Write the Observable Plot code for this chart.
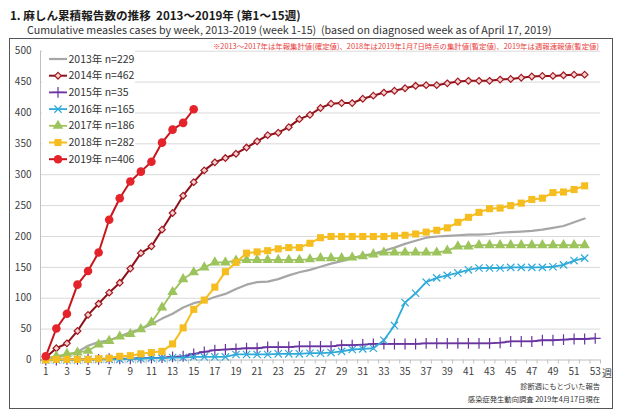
<!DOCTYPE html>
<html>
<head>
<meta charset="utf-8">
<script src="https://cdn.jsdelivr.net/npm/d3@7"></script>
<script src="https://cdn.jsdelivr.net/npm/@observablehq/plot@0.6"></script>
<style>
  body { margin: 0; background: #fff; }
  #wrap { position: relative; width: 630px; height: 420px; background: #fff; font-family: "Noto Sans CJK JP", "Noto Sans", sans-serif; color: #333; overflow: hidden; }
  .abs { position: absolute; white-space: nowrap; }
</style>
</head>
<body>
<div id="wrap">
  <div class="abs" id="title" style="left:10px; top:7px; font-size:11.6px; font-weight:bold; color:#1a1a1a;">1. 麻しん累積報告数の推移&nbsp; 2013～2019年 (第1～15週)</div>
  <div class="abs" id="subtitle" style="left:27px; top:22px; font-size:10.7px; color:#333;">Cumulative measles cases by week, 2013-2019 (week 1-15)&nbsp; (based on diagnosed week as of April 17, 2019)</div>
  <div class="abs" id="box" style="left:9px; top:38px; width:602px; height:369px; border:1px solid #555;"></div>
  <div class="abs" id="chart" style="left:0; top:38px;"></div>
  <div class="abs" id="note" style="right:31px; top:40px; font-size:7.4px; color:#e8413c;">※2013～2017年は年報集計値(確定値)、2018年は2019年1月7日時点の集計値(暫定値)、2019年は週報速報値(暫定値)</div>
  <div class="abs" id="unit" style="left:602px; top:365px; font-size:10px; color:#404040;">週</div>
  <div class="abs" id="foot1" style="right:30px; top:381px; font-size:7.3px; color:#333;">診断週にもとづいた報告</div>
  <div class="abs" id="foot2" style="right:30px; top:394px; font-size:7.3px; color:#333;">感染症発生動向調査 2019年4月17日現在</div>
  <div class="abs" id="legend" style="left:42px; top:50px;"></div>
</div>
<script>
// ---- data ----
const weeks = [1,2,3,4,5,6,7,8,9,10,11,12,13,14,15,16,17,18,19,20,21,22,23,24,25,26,27,28,29,30,31,32,33,34,35,36,37,38,39,40,41,42,43,44,45,46,47,48,49,50,51,52,53];
const xTickWeeks = [1,3,5,7,9,11,13,15,17,19,21,23,25,27,29,31,33,35,37,39,41,43,45,47,49,51,53];
const yTicks = [0,50,100,150,200,250,300,350,400,450,500];
const seriesNames = ["2013年 n=229","2014年 n=462","2015年 n=35","2016年 n=165","2017年 n=186","2018年 n=282","2019年 n=406"];

const cases2013 = [0,4,8,13,23,29,32,38,45,50,58,67,75,85,92,96,102,107,115,122,126,127,131,137,142,146,151,156,160,165,169,172,177,182,188,193,198,200,201,202,203,203,204,206,207,208,209,211,214,217,223,229];
const cases2014 = [4,19,27,47,73,91,109,125,148,173,184,211,238,266,288,307,320,327,334,344,354,364,368,377,390,397,408,415,416,416,423,428,433,436,440,444,445,445,448,451,452,452,452,454,455,457,459,460,460,461,462,462];
const cases2015 = [0,0,1,1,1,1,2,2,2,3,3,4,5,6,10,13,16,17,18,19,19,21,21,21,22,22,22,22,24,24,25,26,26,26,26,26,27,27,27,27,27,27,27,28,30,30,30,32,32,33,34,34,35];
const cases2016 = [0,0,0,0,1,1,1,1,2,2,3,3,4,4,5,5,5,5,9,9,9,9,10,10,10,11,11,12,14,17,18,19,32,56,93,108,126,133,137,141,146,149,149,149,150,150,150,150,151,154,161,165];
const cases2017 = [3,6,10,12,15,25,31,38,42,50,61,85,110,131,142,150,158,158,161,162,162,162,162,162,162,163,165,165,165,166,168,171,174,174,174,174,174,174,177,184,184,186,186,186,186,186,186,186,186,186,186,186];
const cases2018 = [0,1,1,1,1,2,3,6,7,10,12,14,26,52,82,97,118,143,158,173,175,177,180,182,182,189,198,200,200,200,200,200,200,201,202,204,207,210,214,223,231,239,245,246,250,254,260,262,271,272,276,282];
const cases2019 = [6,51,75,122,144,174,227,262,289,305,321,352,373,384,406];

const allCases = [cases2013, cases2014, cases2015, cases2016, cases2017, cases2018, cases2019];

// ---- styles ----
const styles = [
  {line: "#a6a6a6", width: 2.2, symbol: null},
  {line: "#8e1219", width: 2, symbol: "diamond2", r: 3.0, fill: "#f2d2d2", stroke: "#a3171f", sw: 1.2},
  {line: "#6a34a0", width: 1.8, symbol: "plus", r: 3.6, fill: "none", stroke: "#6a34a0", sw: 1.2},
  {line: "#2faad9", width: 1.8, symbol: "times", r: 3.4, fill: "none", stroke: "#2faad9", sw: 1.2},
  {line: "#9cc35c", width: 1.8, symbol: "triangle", r: 3.9, fill: "#9cc35c", stroke: "none", sw: 0},
  {line: "#f5bd1f", width: 2, symbol: "square", r: 4.0, fill: "#f5bd1f", stroke: "none", sw: 0},
  {line: "#c9161d", width: 2, symbol: "circle", r: 4.3, fill: "#e4232a", stroke: "none", sw: 0}
];

const tables = allCases.map((vals, i) => vals.map((v, j) => ({week: weeks[j], value: v, series: seriesNames[i]})));
const boundaries = weeks.map(w => w - 0.5).concat([53.5]);

const seriesMarks = [];
tables.forEach((t, i) => {
  const s = styles[i];
  seriesMarks.push(Plot.line(t, {x: "week", y: "value", stroke: s.line, strokeWidth: s.width, curve: "linear"}));
  if (s.symbol) {
    seriesMarks.push(Plot.dot(t, {x: "week", y: "value", symbol: s.symbol, r: s.r, fill: s.fill, stroke: s.stroke, strokeWidth: s.sw}));
  }
});

const chart = Plot.plot({
  width: 630,
  height: 372,
  marginLeft: 40,
  marginRight: 30,
  marginTop: 12.7,
  marginBottom: 50.5,
  style: {fontFamily: "'Noto Sans CJK JP', 'Noto Sans', sans-serif", fontSize: "10px", color: "#404040", background: "transparent", overflow: "visible"},
  x: {domain: [0.5, 53.5], axis: null},
  y: {domain: [0, 500], axis: null},
  marks: [
    Plot.ruleY(yTicks.filter(d => d > 0), {stroke: "#d9d9d9", strokeWidth: 1}),
    Plot.axisX(boundaries, {tickSize: 4, tickFormat: () => "", stroke: "#bfbfbf", label: null}),
    Plot.ruleY([0], {stroke: "#bfbfbf", strokeWidth: 1}),
    Plot.ruleX([0.5], {stroke: "#bfbfbf", strokeWidth: 1}),
    Plot.axisY(yTicks, {tickSize: 0, tickPadding: 9, fontSize: 10, label: null}),
    Plot.axisX(xTickWeeks, {tickSize: 0, tickPadding: 8, fontSize: 10, label: null}),
    ...seriesMarks
  ]
});
document.getElementById("chart").appendChild(chart);

// ---- legend ----
const lw = 93, lh = 118;
const lsvg = d3.create("svg").attr("width", lw).attr("height", lh)
  .style("font-family", "'Noto Sans CJK JP', 'Noto Sans', sans-serif");
lsvg.append("rect").attr("width", lw).attr("height", lh).attr("fill", "#fff");
const symMap = {diamond2: d3.symbolDiamond2, plus: d3.symbolPlus, times: d3.symbolTimes, triangle: d3.symbolTriangle, square: d3.symbolSquare, circle: d3.symbolCircle};
seriesNames.forEach((name, i) => {
  const s = styles[i];
  const cy = 9 + i * 16.7;
  const g = lsvg.append("g");
  g.append("line").attr("x1", 7).attr("x2", 25).attr("y1", cy).attr("y2", cy)
    .attr("stroke", s.line).attr("stroke-width", s.width);
  if (s.symbol) {
    g.append("path").attr("transform", `translate(16,${cy})`)
      .attr("d", d3.symbol(symMap[s.symbol], Math.PI * s.r * s.r)())
      .attr("fill", s.fill).attr("stroke", s.stroke).attr("stroke-width", s.sw);
  }
  g.append("text").attr("x", 26.5).attr("y", cy).attr("dy", "0.35em")
    .attr("font-size", 10.5).attr("fill", "#333").text(name);
});
document.getElementById("legend").appendChild(lsvg.node());
</script>
</body>
</html>
